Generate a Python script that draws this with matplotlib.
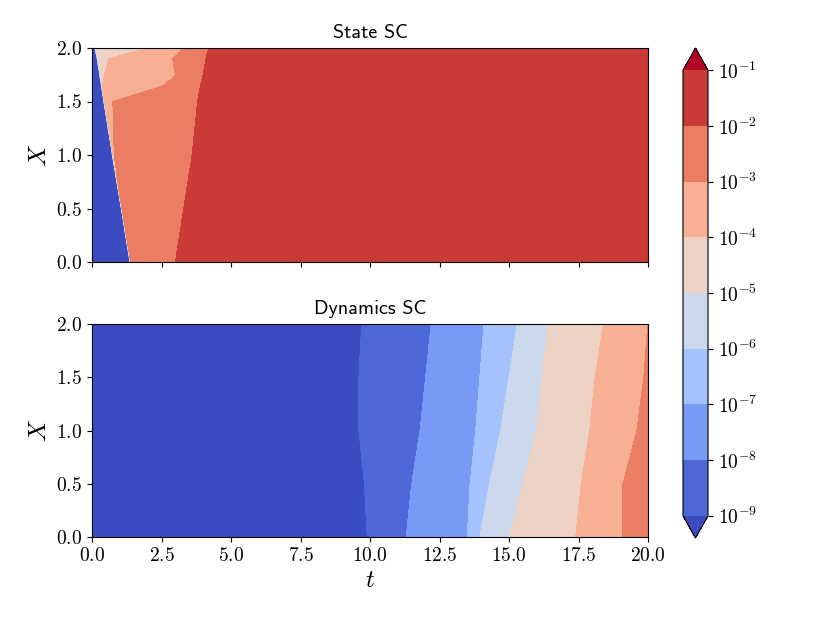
import numpy as np
import matplotlib
matplotlib.use("Agg")
import matplotlib.pyplot as plt

plt.rcParams['mathtext.fontset'] = 'cm'
plt.rcParams['font.family'] = 'cmr10'
plt.rcParams['axes.formatter.use_mathtext'] = True

# contour levels are log10 of the error
levels = [-9, -8, -7, -6, -5, -4, -3, -2, -1]
cbar_labels = [r'$10^{-9}$', r'$10^{-8}$', r'$10^{-7}$', r'$10^{-6}$', r'$10^{-5}$',
               r'$10^{-4}$', r'$10^{-3}$', r'$10^{-2}$', r'$10^{-1}$']
x_ticks = [0.0, 2.5, 5.0, 7.5, 10.0, 12.5, 15.0, 17.5, 20.0]
y_ticks = [0.0, 0.5, 1.0, 1.5, 2.0]

# State SC: key points (t, log10 err) along each X row
state_x = [0.0, 0.5, 1.0, 1.5, 1.65, 1.75, 1.9, 2.0]
state_t = [
    [0, 1.35, 1.39, 1.41, 1.43, 3.0, 20],
    [0, 1.04, 1.08, 1.10, 1.12, 3.3, 20],
    [0, 0.72, 0.76, 0.78, 0.80, 3.6, 20],
    [0, 0.41, 0.45, 0.60, 0.75, 3.8, 20],
    [0, 0.32, 0.36, 0.40, 2.6, 3.9, 20],
    [0, 0.26, 0.30, 0.45, 3.0, 4.0, 20],
    [0, 0.17, 0.21, 0.60, 2.9, 4.1, 20],
    [0, 0.09, 0.13, 2.00, 3.3, 4.2, 20],
]
state_err = [
    [-9.8, -9.5, -2.9, -2.8, -2.7, -2.0, -1.5],
    [-9.8, -9.5, -2.9, -2.8, -2.7, -2.0, -1.5],
    [-9.8, -9.5, -3.2, -3.1, -3.0, -2.0, -1.5],
    [-9.8, -9.5, -3.6, -3.3, -3.0, -2.0, -1.5],
    [-9.8, -9.5, -4.1, -3.9, -3.0, -2.0, -1.5],
    [-9.8, -9.5, -4.4, -4.0, -3.0, -2.0, -1.5],
    [-9.8, -9.5, -4.6, -4.0, -3.0, -2.0, -1.5],
    [-9.8, -9.5, -4.8, -4.0, -3.0, -2.0, -1.5],
]

# Dynamics SC: same idea
dyn_x = [0.0, 0.5, 1.0, 1.5, 2.0]
dyn_t = [
    [0, 9.9, 11.3, 13.5, 13.95, 15.0, 17.4, 19.1, 20],
    [0, 9.8, 11.5, 13.6, 14.3, 15.5, 17.6, 19.1, 20],
    [0, 9.6, 11.8, 13.8, 14.7, 16.0, 17.9, 19.6, 20],
    [0, 9.6, 12.0, 13.95, 15.0, 16.2, 18.1, 19.85, 20],
    [0, 9.7, 12.2, 14.1, 15.3, 16.4, 18.4, 19.99, 20],
]
dyn_err = [
    [-9.8, -9, -8, -7, -6, -5, -4, -3, -2.6],
    [-9.8, -9, -8, -7, -6, -5, -4, -3, -2.6],
    [-9.8, -9, -8, -7, -6, -5, -4, -3, -2.8],
    [-9.8, -9, -8, -7, -6, -5, -4, -3, -2.9],
    [-9.8, -9, -8, -7, -6, -5, -4, -3, -2.99],
]

fig = plt.figure(figsize=(8.3, 6.23), dpi=100)
ax1 = fig.add_axes([92/830, 1-262/623, 556/830, 214/623])
ax2 = fig.add_axes([92/830, 1-537/623, 556/830, 213/623])
cax = fig.add_axes([683/830, 1-538/623, 25/830, 490/623])

panels = [(ax1, state_x, state_t, state_err, 'State SC'),
          (ax2, dyn_x, dyn_t, dyn_err, 'Dynamics SC')]
for ax, xs, ts, zs, title in panels:
    T = np.array(ts, dtype=float)
    X = np.repeat(np.array(xs)[:, None], T.shape[1], axis=1)
    cs = ax.contourf(T, X, np.array(zs), levels=levels, cmap='coolwarm', extend='both')
    ax.set_xlim(0, 20)
    ax.set_ylim(0, 2)
    ax.set_xticks(x_ticks)
    ax.set_yticks(y_ticks)
    ax.set_ylabel(r'$X$', fontsize=18)
    ax.set_title(title, fontfamily='cmss10', fontsize=14.5, pad=7.5)
    ax.tick_params(labelsize=14)

ax1.tick_params(labelbottom=False)
ax2.set_xlabel(r'$t$', fontsize=18)

cbar = fig.colorbar(cs, cax=cax)
cbar.set_ticks(levels)
cbar.set_ticklabels(cbar_labels)
cbar.ax.tick_params(labelsize=14)

fig.savefig('out.png', dpi=100)
